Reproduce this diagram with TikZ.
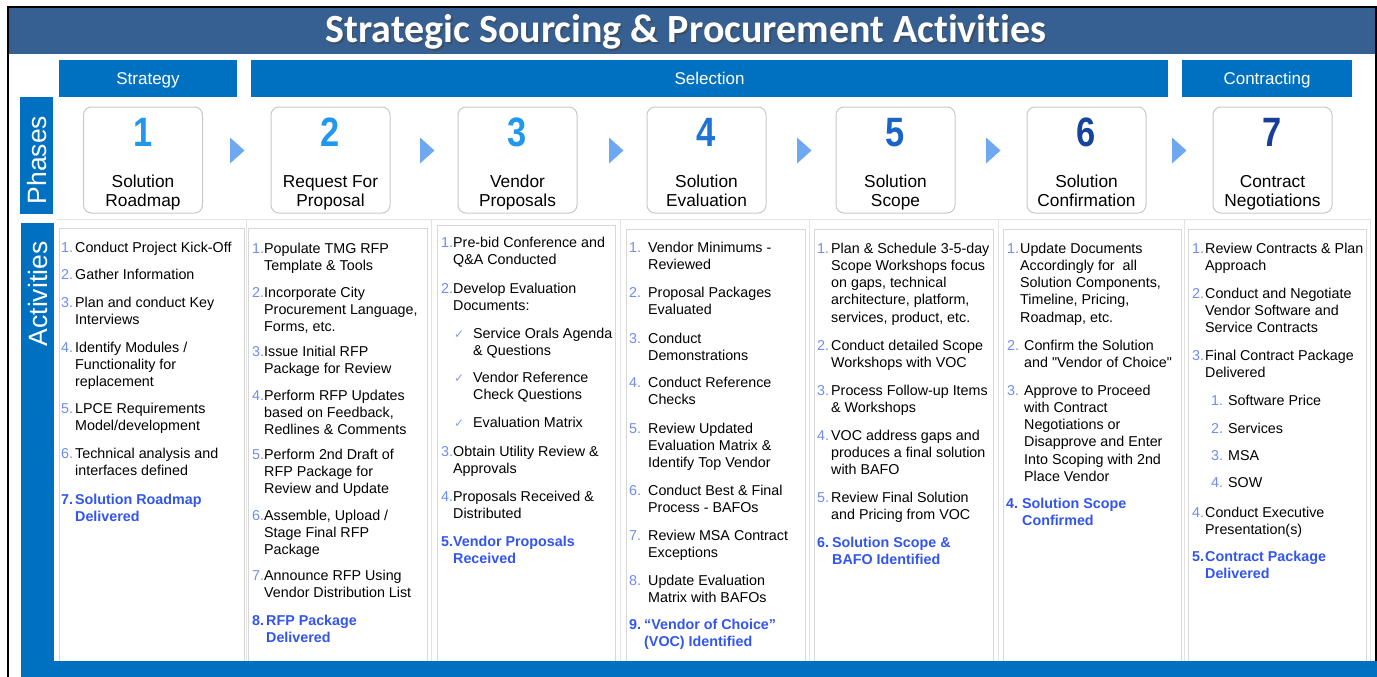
\documentclass[tikz,border=0pt]{standalone}
\usepackage{graphicx}
\usepackage{fontspec}
\setmainfont{Liberation Sans}
\newfontfamily\qfont{Liberation Sans}
\newfontfamily\titlefont[Ligatures={NoCommon}]{Carlito}
\newfontfamily\symfont{DejaVu Sans}
\definecolor{titlebar}{RGB}{55,96,146}
\definecolor{barblue}{RGB}{0,112,192}
\definecolor{numblue}{RGB}{110,140,245}
\definecolor{keyblue}{RGB}{50,85,240}
\definecolor{triblue}{RGB}{110,168,240}
\definecolor{boxgray}{RGB}{200,200,200}
\definecolor{gridgray}{RGB}{228,228,228}
\definecolor{colgray}{RGB}{215,215,215}
\definecolor{phA}{RGB}{32,152,240}
\definecolor{phB}{RGB}{30,115,212}
\definecolor{phC}{RGB}{25,100,200}
\definecolor{phD}{RGB}{20,68,158}
\definecolor{phE}{RGB}{22,62,152}
\newcommand\ml[1]{\vtop{\let\\\cr\halign{##\hfil\cr#1\crcr}}}
\newcommand\mlc[1]{\vtop{\let\\\cr\halign{\hfil##\hfil\cr#1\crcr}}}
\newcommand\act[7]{%
  \node[#1num] (#2n) at (#3,#5) {#6};
  \node[#1txt] (#2t) at (#4,#5) {\ml{#7}};}
\newcommand\actfont{\fontsize{14.3}{17.3}\selectfont}
\newcommand\sq{{\qfont"}}
\tikzset{
  nnum/.style={anchor=base west, inner sep=0pt, font=\actfont, text=numblue},
  ntxt/.style={anchor=base west, inner sep=0pt, font=\actfont, text=black},
  knum/.style={anchor=base west, inner sep=0pt, font=\actfont\bfseries, text=keyblue},
  ktxt/.style={anchor=base west, inner sep=0pt, font=\actfont\bfseries, text=keyblue},
  cnum/.style={anchor=base west, inner sep=0pt, font=\symfont\fontsize{12}{13}\selectfont, text=numblue!85},
  ctxt/.style={anchor=base west, inner sep=0pt, font=\actfont, text=black},
  hdr/.style={fill=barblue, inner sep=0pt, text=white, font=\fontsize{17}{19}\selectfont, text height=12.2pt, text depth=1pt},
  phasebox/.style={draw=boxgray, line width=1pt, fill=white, rounded corners=8pt, minimum width=119pt, minimum height=106pt, inner sep=0pt},
  phnum/.style={inner sep=0pt, font=\fontsize{41}{41}\selectfont\bfseries},
  phlbl/.style={anchor=base, inner sep=0pt, font=\fontsize{17.3}{19}\selectfont, text=black},
  colbox/.style={draw=colgray, line width=0.8pt, fill=white, inner sep=0pt},
  tri/.style={fill=triblue},
  sidelbl/.style={text=white, rotate=90, inner sep=0pt, font=\fontsize{26.5}{28}\selectfont},
  titlesty/.style={anchor=base, inner sep=0pt, font=\titlefont\bfseries\fontsize{40}{42}\selectfont},
}
\begin{document}
\begin{tikzpicture}[x=1pt,y=-1pt]
\useasboundingbox (0,0) rectangle (1377,677);
\fill[white] (0,0) rectangle (1377,677);
% frame and title
\fill[titlebar] (8,7) rectangle (1377,54);
\draw[black, line width=1.3pt] (8,700) -- (8,7) -- (1376,7) -- (1376,700);
\node[titlesty, text=black!75, opacity=0.55] (titleshadow) at (687.5,44.5) {Strategic Sourcing \& Procurement Activities};
\node[titlesty, text=white] (title) at (686,43) {Strategic Sourcing \& Procurement Activities};
% header bars
\node[hdr, minimum width=178pt, minimum height=37pt] (strategy) at (148,78.5) {Strategy};
\node[hdr, minimum width=917pt, minimum height=37pt] (selection) at (709.5,78.5) {Selection};
\node[hdr, minimum width=170pt, minimum height=37pt] (contracting) at (1267,78.5) {Contracting};
% side labels
\fill[barblue] (20,97) rectangle (52.5,214);
\node[sidelbl] (phases) at (37.5,160) {Phases};
\fill[barblue] (21,223) rectangle (54,677);
\node[sidelbl] (activities) at (38.5,294) {Activities};
% phase boxes
\foreach \i/\x/\c/\la/\lb in {1/143/phA/Solution/Roadmap, 2/330.5/phA/Request For/Proposal, 3/517.5/phA/Vendor/Proposals, 4/706.5/phB/Solution/Evaluation, 5/895.5/phC/Solution/Scope, 6/1086.5/phD/Solution/Confirmation, 7/1272.5/phE/Contract/Negotiations}{
  \node[phasebox] (p\i) at (\x,160) {};
  \node[phnum, text=\c] (p\i num) at (\x,132.5) {\scalebox{0.84}[1]{\i}};
  \node[phlbl] (p\i lbl) at (\x,187) {\mlc{\la\\\lb}};
}
% triangles between phases
\foreach \x in {230,420,609,797,986,1172}{
  \fill[tri] (\x,137.5) -- (\x+14.5,150.5) -- (\x,163.5) -- cycle;
}
% grid
\draw[gridgray, line width=0.8pt] (57,219) -- (1370,219);
\foreach \x in {246,431.5,620.5,809.5,998,1184.5,1370}{
  \draw[gridgray, line width=0.8pt] (\x,219) -- (\x,661);
}
% activity columns
\foreach \n/\l/\r/\t in {1/59/244/228, 2/248/427/228, 3/437/615/225, 4/626/805/229, 5/814/993/229, 6/1003/1181/229, 7/1188/1366/229}{
  \node[colbox, minimum width=\r-\l, minimum height=666-\t, anchor=north west] (col\n) at (\l,\t) {};
}
\fill[barblue] (21,661) rectangle (1377,677);
% column 1
\act{n}{a1}{61}{75}{252}{1.}{Conduct Project Kick-Off}
\act{n}{a2}{61}{75}{279}{2.}{Gather Information}
\act{n}{a3}{61}{75}{307}{3.}{Plan and conduct Key\\Interviews}
\act{n}{a4}{61}{75}{352}{4.}{Identify Modules /\\Functionality for\\replacement}
\act{n}{a5}{61}{75}{413}{5.}{LPCE Requirements\\Model/development}
\act{n}{a6}{61}{75}{458}{6.}{Technical analysis and\\interfaces defined}
\act{k}{a7}{61}{75}{504}{7.}{Solution Roadmap\\Delivered}
% column 2
\act{n}{b1}{252}{264}{253}{1.}{Populate TMG RFP\\Template \& Tools}
\act{n}{b2}{252}{264}{297}{2.}{Incorporate City\\Procurement Language,\\Forms, etc.}
\act{n}{b3}{252}{264}{356}{3.}{Issue Initial RFP\\Package for Review}
\act{n}{b4}{252}{264}{400}{4.}{Perform RFP Updates\\based on Feedback,\\Redlines \& Comments}
\act{n}{b5}{252}{264}{459}{5.}{Perform 2nd Draft of\\RFP Package for\\Review and Update}
\act{n}{b6}{252}{264}{520}{6.}{Assemble, Upload /\\Stage Final RFP\\Package}
\act{n}{b7}{252}{264}{580}{7.}{Announce RFP Using\\Vendor Distribution List}
\act{k}{b8}{252}{266}{625}{8.}{RFP Package\\Delivered}
% column 3
\act{n}{c1}{441}{453}{247}{1.}{Pre-bid Conference and\\Q\&A Conducted}
\act{n}{c2}{441}{453}{293}{2.}{Develop Evaluation\\Documents:}
\act{c}{cc1}{454}{473}{338}{✓}{Service Orals Agenda\\\& Questions}
\act{c}{cc2}{454}{473}{382}{✓}{Vendor Reference\\Check Questions}
\act{c}{cc3}{454}{473}{427}{✓}{Evaluation Matrix}
\act{n}{c3}{441}{453}{456}{3.}{Obtain Utility Review \&\\Approvals}
\act{n}{c4}{441}{453}{501}{4.}{Proposals Received \&\\Distributed}
\act{k}{c5}{441}{453}{546}{5.}{Vendor Proposals\\Received}
% column 4
\act{n}{d1}{629}{648}{252}{1.}{Vendor Minimums -\\Reviewed}
\act{n}{d2}{629}{648}{297}{2.}{Proposal Packages\\Evaluated}
\act{n}{d3}{629}{648}{343}{3.}{Conduct\\Demonstrations}
\act{n}{d4}{629}{648}{387}{4.}{Conduct Reference\\Checks}
\act{n}{d5}{629}{648}{433}{5.}{Review Updated\\Evaluation Matrix \&\\Identify Top Vendor}
\act{n}{d6}{629}{648}{495}{6.}{Conduct Best \& Final\\Process - BAFOs}
\act{n}{d7}{629}{648}{540}{7.}{Review MSA Contract\\Exceptions}
\act{n}{d8}{629}{648}{585}{8.}{Update Evaluation\\Matrix with BAFOs}
\act{k}{d9}{629}{644}{629}{9.}{“Vendor of Choice”\\(VOC) Identified}
% column 5
\act{n}{e1}{817}{831}{253}{1.}{Plan \& Schedule 3-5-day\\Scope Workshops focus\\on gaps, technical\\architecture, platform,\\services, product, etc.}
\act{n}{e2}{817}{831}{350}{2.}{Conduct detailed Scope\\Workshops with VOC}
\act{n}{e3}{817}{831}{395}{3.}{Process Follow-up Items\\\& Workshops}
\act{n}{e4}{817}{831}{440}{4.}{VOC address gaps and\\produces a final solution\\with BAFO}
\act{n}{e5}{817}{831}{502}{5.}{Review Final Solution\\and Pricing from VOC}
\act{k}{e6}{817}{832}{547}{6.}{Solution Scope \&\\BAFO Identified}
% column 6
\act{n}{f1}{1007}{1020}{253}{1.}{Update Documents\\Accordingly for\ \ all\\Solution Components,\\Timeline, Pricing,\\Roadmap, etc.}
\act{n}{f2}{1007}{1024}{350}{2.}{Confirm the Solution\\and \sq Vendor of Choice\sq}
\act{n}{f3}{1007}{1024}{395}{3.}{Approve to Proceed\\with Contract\\Negotiations or\\Disapprove and Enter\\Into Scoping with 2nd\\Place Vendor}
\act{k}{f4}{1006}{1022}{508}{4.}{Solution Scope\\Confirmed}
% column 7
\act{n}{g1}{1192}{1205}{253}{1.}{Review Contracts \& Plan\\Approach}
\act{n}{g2}{1192}{1205}{298}{2.}{Conduct and Negotiate\\Vendor Software and\\Service Contracts}
\act{n}{g3}{1192}{1205}{360}{3.}{Final Contract Package\\Delivered}
\act{n}{h1}{1211}{1228}{405}{1.}{Software Price}
\act{n}{h2}{1211}{1228}{433}{2.}{Services}
\act{n}{h3}{1211}{1228}{460}{3.}{MSA}
\act{n}{h4}{1211}{1228}{487}{4.}{SOW}
\act{n}{g4}{1192}{1205}{517}{4.}{Conduct Executive\\Presentation(s)}
\act{k}{g5}{1192}{1205}{561}{5.}{Contract Package\\Delivered}
\end{tikzpicture}
\end{document}
